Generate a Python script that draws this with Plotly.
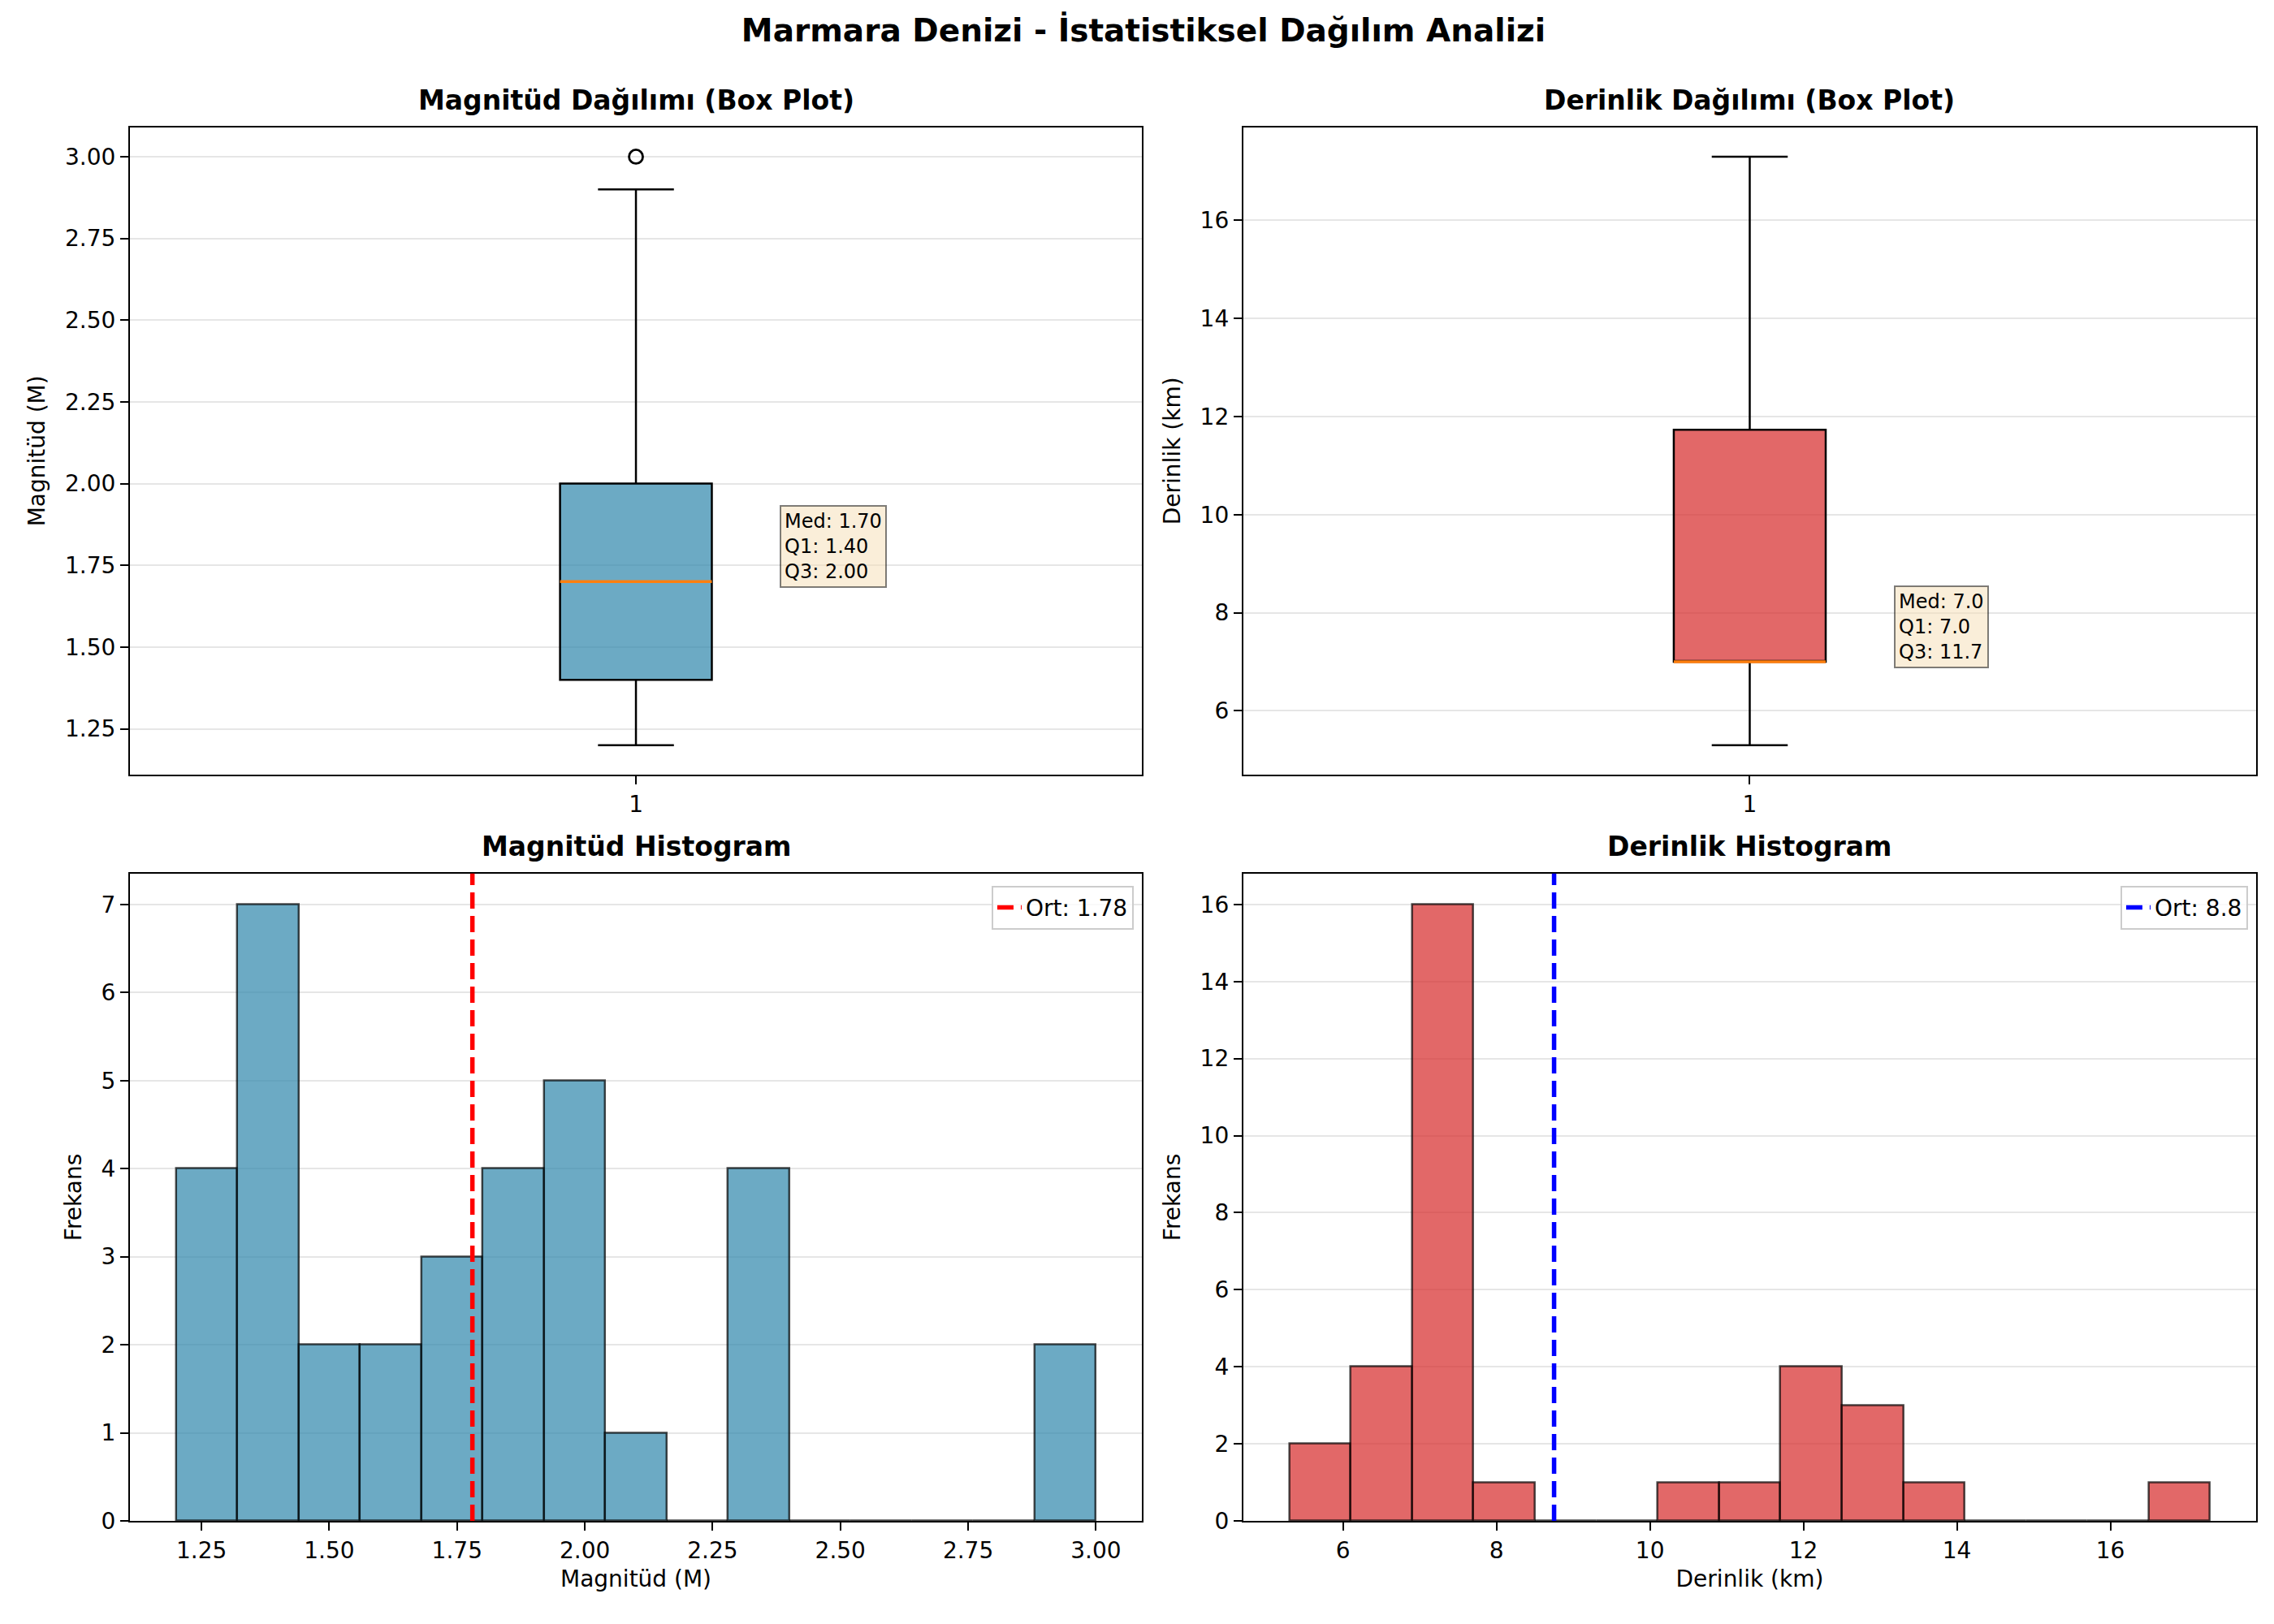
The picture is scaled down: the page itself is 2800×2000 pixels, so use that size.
import plotly.graph_objects as go
from plotly.subplots import make_subplots

# Magnitüd kutu grafiği istatistikleri
mag_q1 = 1.40
mag_median = 1.70
mag_q3 = 2.00
mag_low = 1.20
mag_high = 2.90
mag_outliers = [3.00]

# Derinlik kutu grafiği istatistikleri
dep_q1 = 7.0
dep_median = 7.0
dep_q3 = 11.73
dep_low = 5.3
dep_high = 17.3

# Histogram frekansları (15 kutu)
mag_bin_start = 1.2
mag_bin_width = 0.12
mag_counts = [4, 7, 2, 2, 3, 4, 5, 1, 0, 4, 0, 0, 0, 0, 2]
mag_mean = 1.78

dep_bin_start = 5.3
dep_bin_width = 0.8
dep_counts = [2, 4, 16, 1, 0, 0, 1, 1, 4, 3, 1, 0, 0, 0, 1]
dep_mean = 8.75

mag_centers = [mag_bin_start + mag_bin_width * (i + 0.5) for i in range(len(mag_counts))]
dep_centers = [dep_bin_start + dep_bin_width * (i + 0.5) for i in range(len(dep_counts))]

FONT = "DejaVu Sans"
BLUE = "rgba(46,134,171,0.7)"
RED = "rgba(214,40,40,0.7)"
EDGE = "rgba(0,0,0,0.7)"
BOX_W = 0.15

fig = make_subplots(rows=2, cols=2)

# Box plots
fig.add_trace(go.Box(x=[1], q1=[mag_q1], median=[mag_median], q3=[mag_q3],
                     lowerfence=[mag_low], upperfence=[mag_high],
                     width=BOX_W, whiskerwidth=0.5, fillcolor=BLUE,
                     line=dict(color="black", width=2.5), boxpoints=False,
                     showlegend=False, hoverinfo="skip"), row=1, col=1)
fig.add_trace(go.Scatter(x=[1 - BOX_W / 2, 1 + BOX_W / 2], y=[mag_median, mag_median],
                         mode="lines", line=dict(color="#ff7f0e", width=3.5),
                         showlegend=False), row=1, col=1)
fig.add_trace(go.Scatter(x=[1] * len(mag_outliers), y=mag_outliers, mode="markers",
                         marker=dict(symbol="circle-open", size=17, color="black",
                                     line=dict(width=2.8)),
                         showlegend=False), row=1, col=1)

fig.add_trace(go.Box(x=[1], q1=[dep_q1], median=[dep_median], q3=[dep_q3],
                     lowerfence=[dep_low], upperfence=[dep_high],
                     width=BOX_W, whiskerwidth=0.5, fillcolor=RED,
                     line=dict(color="black", width=2.5), boxpoints=False,
                     showlegend=False, hoverinfo="skip"), row=1, col=2)
fig.add_trace(go.Scatter(x=[1 - BOX_W / 2, 1 + BOX_W / 2], y=[dep_median, dep_median],
                         mode="lines", line=dict(color="#ff7f0e", width=3.5),
                         showlegend=False), row=1, col=2)

# Histograms
fig.add_trace(go.Bar(x=mag_centers, y=mag_counts, width=mag_bin_width,
                     marker=dict(color=BLUE, line=dict(color=EDGE, width=2.5)),
                     showlegend=False), row=2, col=1)
fig.add_trace(go.Bar(x=dep_centers, y=dep_counts, width=dep_bin_width,
                     marker=dict(color=RED, line=dict(color=EDGE, width=2.5)),
                     showlegend=False), row=2, col=2)

# Mean lines (shown in legends)
fig.add_shape(type="line", xref="x3", yref="y3 domain", x0=mag_mean, x1=mag_mean, y0=0, y1=1,
              line=dict(color="red", width=5.5, dash="20px,9px"),
              showlegend=True, name=f"Ort: {mag_mean:.2f}", legend="legend")
fig.add_shape(type="line", xref="x4", yref="y4 domain", x0=dep_mean, x1=dep_mean, y0=0, y1=1,
              line=dict(color="blue", width=5.5, dash="20px,9px"),
              showlegend=True, name=f"Ort: {dep_mean:.1f}", legend="legend2")

# Stat labels
ann_box = dict(xanchor="left", yanchor="bottom", showarrow=False, align="left",
               font=dict(family=FONT, size=24, color="black"),
               bgcolor="rgba(245,222,179,0.5)", bordercolor="rgba(0,0,0,0.5)",
               borderwidth=2, borderpad=4, xshift=-10, yshift=-8)
fig.add_annotation(x=1.15, y=mag_median, xref="x", yref="y",
                   text=f"Med: {mag_median:.2f}<br>Q1: {mag_q1:.2f}<br>Q3: {mag_q3:.2f}", **ann_box)
fig.add_annotation(x=1.15, y=dep_median, xref="x2", yref="y2",
                   text=f"Med: {dep_median:.1f}<br>Q1: {dep_q1:.1f}<br>Q3: {dep_q3:.1f}", **ann_box)

# Panel layout
xdom = [[0.0543, 0.4993], [0.5439, 0.9893]]
ydom = [[0.523, 0.925], [0.0595, 0.4615]]
titles = ["Magnitüd Dağılımı (Box Plot)", "Derinlik Dağılımı (Box Plot)",
          "Magnitüd Histogram", "Derinlik Histogram"]

axis_style = dict(showline=True, linecolor="black", linewidth=2.2, mirror=True,
                  ticks="outside", ticklen=10, tickwidth=2.2, tickcolor="black",
                  tickfont=dict(family=FONT, size=28, color="black"),
                  zeroline=False)
title_font = dict(family=FONT, size=28, color="black")

for i in range(4):
    r, c = divmod(i, 2)
    n = "" if i == 0 else str(i + 1)
    fig.layout["xaxis" + n].update(domain=xdom[c], showgrid=False, **axis_style)
    fig.layout["yaxis" + n].update(domain=ydom[r], showgrid=True, gridcolor="#e6e6e6",
                                   gridwidth=2.2, **axis_style)
    fig.add_annotation(x=sum(xdom[c]) / 2, y=ydom[r][1], xref="paper", yref="paper",
                       text=f"<b>{titles[i]}</b>", showarrow=False, xanchor="center",
                       yanchor="bottom", yshift=12, font=dict(family=FONT, size=33, color="black"))

fig.update_xaxes(range=[0.5, 1.5], tickvals=[1], ticktext=["1"], row=1, col=1)
fig.update_xaxes(range=[0.5, 1.5], tickvals=[1], ticktext=["1"], row=1, col=2)
fig.update_yaxes(range=[1.11, 3.09], dtick=0.25, tickformat=".2f",
                 title=dict(text="Magnitüd (M)", font=title_font, standoff=16), row=1, col=1)
fig.update_yaxes(range=[4.7, 17.9], tick0=6, dtick=2,
                 title=dict(text="Derinlik (km)", font=title_font, standoff=16), row=1, col=2)

fig.update_xaxes(range=[1.11, 3.09], tick0=1.25, dtick=0.25, tickformat=".2f",
                 title=dict(text="Magnitüd (M)", font=title_font, standoff=10), row=2, col=1)
fig.update_yaxes(range=[0, 7.35], dtick=1,
                 title=dict(text="Frekans", font=title_font, standoff=16), row=2, col=1)
fig.update_xaxes(range=[4.7, 17.9], tick0=6, dtick=2,
                 title=dict(text="Derinlik (km)", font=title_font, standoff=10), row=2, col=2)
fig.update_yaxes(range=[0, 16.8], dtick=2,
                 title=dict(text="Frekans", font=title_font, standoff=16), row=2, col=2)

legend_style = dict(xanchor="right", yanchor="top", bgcolor="rgba(255,255,255,0.8)",
                    bordercolor="#cccccc", borderwidth=2,
                    font=dict(family=FONT, size=28, color="black"))

fig.update_layout(
    width=2800, height=2000,
    margin=dict(l=0, r=0, t=0, b=0),
    paper_bgcolor="white", plot_bgcolor="white",
    font=dict(family=FONT, color="black"),
    bargap=0,
    title=dict(text="<b>Marmara Denizi - İstatistiksel Dağılım Analizi</b>",
               x=0.5, xanchor="center", y=0.992, yanchor="top",
               font=dict(family=FONT, size=39, color="black")),
    legend=dict(x=0.4957, y=0.454, **legend_style),
    legend2=dict(x=0.9857, y=0.454, **legend_style),
)

fig.write_html("out.html")
